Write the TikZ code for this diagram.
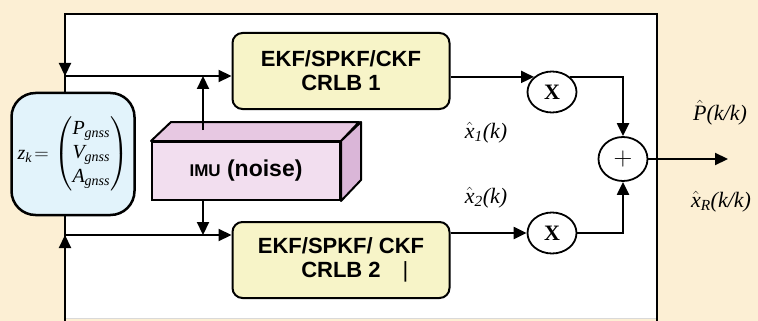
\RequirePackage{fix-cm}
\documentclass[tikz,border=0pt]{standalone}
\usepackage{amsmath}
\usepackage{fontspec}
\setmainfont{Liberation Serif}
\setsansfont{Liberation Sans}
\usetikzlibrary{arrows.meta,shapes.geometric}

\definecolor{bgbeige}{RGB}{252,239,212}
\definecolor{zkblue}{RGB}{226,243,251}
\definecolor{ekfyellow}{RGB}{247,244,200}
\definecolor{imufront}{RGB}{242,222,239}
\definecolor{imutop}{RGB}{231,200,226}
\definecolor{imuside}{RGB}{218,182,216}

\begin{document}
\begin{tikzpicture}[x=1pt, y=-1pt,
  filt/.style={draw, rounded corners=10pt, fill=ekfyellow, line width=2pt,
    minimum width=217pt, minimum height=76pt, align=center,
    font=\sffamily\bfseries\fontsize{22}{24}\selectfont},
  zkbox/.style={draw, rounded corners=24pt, fill=zkblue, line width=2.5pt,
    minimum width=123pt, minimum height=122pt, inner sep=1pt,
    font=\fontsize{20}{24}\selectfont},
  imubox/.style={draw, fill=imufront, line width=2pt, minimum width=188pt,
    minimum height=58pt, font=\sffamily\bfseries\fontsize{23}{25}\selectfont},
  mult/.style={draw, ellipse, line width=1.8pt, fill=white, minimum width=49pt,
    minimum height=41pt, inner sep=0pt, font=\bfseries\fontsize{22}{24}\selectfont},
  lbl/.style={font=\fontsize{22}{24}\selectfont},
  ln/.style={line width=2.2pt},
  arr/.style={-{Triangle[length=13pt,width=12pt]}, line width=2.2pt}
]
\useasboundingbox (0,0) rectangle (758,321);
\fill[bgbeige] (0,0) rectangle (758,321);
\filldraw[fill=white, draw=black!15, line width=1pt] (65,14) rectangle (657,318);

\coordinate (ftop) at (65,14);
\coordinate (fbot) at (65,321);
\coordinate (jtop) at (65,76);
\coordinate (jbot) at (65,235);
\coordinate (imuup) at (203,130);

\draw[ln] (fbot -| ftop) -- (ftop) -- (657,14) -- (657,321);
\draw[arr] (ftop) -- (jtop);
\draw[ln] (jtop) -- (jbot);
\draw[arr] (fbot) -- (jbot);

\node[zkbox] (zk) at (73,154)
  {$\mathit{z}_{\mathit{k}}\mskip2mu{=}\mskip2mu\begin{pmatrix} \mathit{P}_{\mathit{gnss}}\\
    \mathit{V}_{\mathit{gnss}}\\ \mathit{A}_{\mathit{gnss}} \end{pmatrix}$};

\node[filt] (ekf1) at (341,71) {EKF/SPKF/CKF\\CRLB 1};
\node[filt] (ekf2) at (341,260)
  {EKF/SPKF/ CKF\\CRLB 2\rlap{\hspace{22pt}\mdseries|}};

\node[imubox] (imu) at (246,171) {{\fontsize{17}{18}\selectfont IMU} (noise)};
\filldraw[fill=imutop, line width=2pt, line join=round]
  (imu.north west) -- ++(20,-19) -- ++(188,0) -- (imu.north east) -- cycle;
\filldraw[fill=imuside, line width=2pt, line join=round]
  (imu.north east) -- ++(20,-19) -- ++(0,58) -- (imu.south east) -- cycle;

\node[mult] (mul1) at (552,92) {X};
\node[mult] (mul2) at (552,233) {X};
\node[mult, minimum height=44pt, font=\fontsize{26}{28}\selectfont] (sum)
  at (623,159) {$+$};

\node[lbl] (x1) at (486,133) {$\hat{\mathit{x}}_{\mathit{1}}\textit{(k)}$};
\node[lbl] (x2) at (486,198) {$\hat{\mathit{x}}_{\mathit{2}}\textit{(k)}$};
\node[lbl] (pk) at (720,113) {$\hat{\mathit{P}}\textit{(k/k)}$};
\node[lbl] (xr) at (721,202) {$\hat{\mathit{x}}_{\mathit{R}}\textit{(k/k)}$};
\coordinate (out) at (728,159);

\draw[arr] (jtop) -- (jtop -| ekf1.west);
\draw[arr] (jbot) -- (jbot -| ekf2.west);
\draw[arr] (imuup) -- (imuup |- jtop);
\draw[arr] (imu.south -| imuup) -- (imuup |- jbot);

\draw[arr] (ekf1.east |- mul1.140) -- (mul1.140);
\draw[arr] (ekf2.east |- mul2.west) -- (mul2.west);
\draw[arr] (mul1.40) -| (sum.north);
\draw[arr] (mul2.east) -| (sum.south);
\draw[arr] (sum.east) -- (out);
\end{tikzpicture}
\end{document}
